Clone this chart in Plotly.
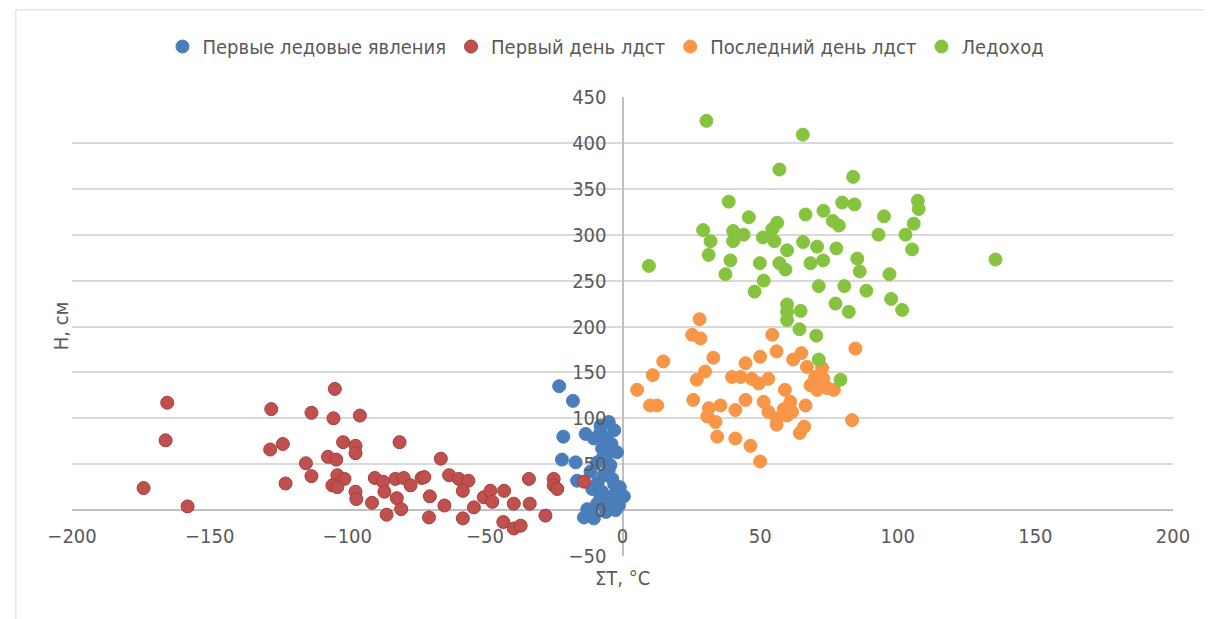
import plotly.graph_objects as go

# Первые ледовые явления
blue_x = [-23, -18, -21.5, -22, -17, -16.5, -14, -13.4, -5, -3, -8, -10.4, -7.4, -5.6,
          -9.2, -4.4, -11.6, -6.8, -3.7, -11, -7.4, -3.2, -1.3, -5, -9.2, -11.6, -2.5,
          -6, -8, -2, -6, -12.8, -10.4, 0.5, -1, -4, -7, -9, -5, -3, -6, -8]
blue_y = [135, 119, 80, 55, 52, 32, -8, 83, 96, 87, 85, 78, 67, 61,
          52, 49, 42, 38, 34, 23, 20, 16, 5, 7, 7, -2, 0,
          -2, 14, 63, 78, 1, -9, 15, 25, 72, 58, 30, 44, 28, 10, 92]

# Первый день лдст
red_x = [-165.4, -166, -174, -158, -127.6, -128, -123.4, -122.4, -113, -104.5, -105, -95.4,
         -101.5, -97, -97, -107, -104, -115, -113, -103.6, -101, -105.4, -103.6, -97,
         -96.7, -91, -90, -87, -86.5, -85.7, -81, -82.5, -79.5, -77, -82, -80.4, -73,
         -72, -70, -70.3, -66, -64.7, -63, -59.5, -56, -58, -58, -54, -50.4, -48, -47.3,
         -43, -43.3, -39.5, -39.5, -37, -34, -33.7, -28, -25, -25, -23.7, -14]
red_y = [117, 76, 24, 4, 110, 66, 72, 29, 106, 132, 100, 103,
         74, 70, 62, 58, 55, 51, 37, 38, 34, 27, 25, 20,
         12, 8, 35, 31, 20, -5, 74, 34, 35, 27, 13, 1, 35,
         36, 15, -8, 56, 5, 38, 34, 32, 21, -9, 3, 14, 21, 9,
         21, -13, 7, -20, -17, 34, 7, -6, 34, 27, 23, 31]

# Последний день лдст
orange_x = [28, 25.3, 28.3, 14.8, 11, 5.3, 10, 12.6, 33, 30, 27, 25.7, 31.4, 30.8, 33.8,
            35.6, 34.4, 41, 46.5, 50, 41, 44.7, 39.8, 44.7, 42.9, 47, 50, 49.5, 53, 54.4,
            56, 51.3, 53, 56, 56, 59, 61, 58.6, 59.8, 61.6, 62, 65, 67, 66.5, 66, 64.4,
            68.3, 70.7, 72.5, 74.4, 76.8, 84.6, 83.4, 70, 73]
orange_y = [208, 191, 187, 162, 147, 131, 114, 114, 166, 151, 142, 120, 111, 102, 96,
            114, 80, 78, 70, 53, 109, 120, 145, 160, 145, 143, 167, 138, 143, 191,
            173, 118, 107, 100, 93, 131, 118, 110, 103, 107, 164, 171, 156, 114, 91, 84,
            136, 131, 155, 133, 131, 176, 98, 145, 143]

# Ледоход
green_x = [30.5, 65.5, 57, 83.8, 38.6, 107.3, 107.6, 79.8, 84.3, 45.9, 66.5, 73, 76.4, 78.6,
           95, 105.8, 29.3, 40.2, 44, 51, 56.2, 54.4, 55.2, 93, 102.8, 32, 40.2, 65.6,
           70.7, 77.7, 105.2, 59.8, 31.3, 9.6, 39.2, 49.9, 57, 59.2, 68.3, 72.9, 85.3,
           86.2, 135.5, 37.4, 97, 51.3, 48, 71.3, 80.6, 88.6, 97.6, 101.6, 77.4, 82.2,
           59.8, 59.8, 59.8, 64.7, 64.3, 70.4, 71.3, 79.2]
green_y = [424, 409, 371, 363, 336, 337, 328, 335, 333, 319, 322, 326, 315, 310,
           320, 312, 305, 304, 300, 297, 313, 306, 293, 300, 300, 293, 293, 292,
           287, 285, 284, 283, 278, 266, 272, 269, 269, 262, 269, 272, 274,
           260, 273, 257, 257, 250, 238, 244, 244, 239, 230, 218, 225, 216,
           224, 216, 207, 217, 197, 190, 164, 142]

x_ticks = [-200, -150, -100, -50, 0, 50, 100, 150, 200]
y_ticks = [-50, 0, 50, 100, 150, 200, 250, 300, 350, 400, 450]

FONT = "Liberation Sans Narrow, DejaVu Sans Condensed, Arial Narrow, sans-serif"
GRIS = "#595959"

fig = go.Figure()

series = [
    ("Первые ледовые явления", blue_x, blue_y, "#4A7EBB", "#4A7EBB"),
    ("Первый день лдст", red_x, red_y, "#C0504D", "#A43F3C"),
    ("Последний день лдст", orange_x, orange_y, "#F79646", "#F79646"),
    ("Ледоход", green_x, green_y, "#86C440", "#86C440"),
]
for nombre, xs, ys, color, borde in series:
    fig.add_trace(go.Scatter(x=xs, y=ys, mode="markers", name=nombre,
                             marker=dict(size=13, color=color,
                                         line=dict(color=borde, width=1))))

# la página añade 8 px de margen al cuerpo: se descuentan aquí
fig.update_layout(
    width=1212, height=619,
    margin=dict(l=64, r=47, t=89, b=71),
    plot_bgcolor="white", paper_bgcolor="white",
    font=dict(family=FONT, size=20, color=GRIS),
    showlegend=True,
    legend=dict(orientation="h", x=0.485, y=1.11, xanchor="center", yanchor="middle",
                font=dict(size=20, color=GRIS), itemwidth=30, tracegroupgap=0),
    xaxis=dict(range=[-200, 200], tickvals=x_ticks, showgrid=False,
               zeroline=True, zerolinecolor="#BFBFBF", zerolinewidth=1.5,
               anchor="free", position=0.1, showline=False, ticks="",
               ticklabelstandoff=12,
               tickfont=dict(size=20, color=GRIS), fixedrange=True),
    yaxis=dict(range=[-50, 450], tickvals=y_ticks, showgrid=True,
               gridcolor="#D9D9D9", gridwidth=1.5,
               zeroline=True, zerolinecolor="#BFBFBF", zerolinewidth=1.5,
               anchor="free", position=0.5, showline=False, ticks="",
               ticklabelstandoff=16,
               tickfont=dict(size=20, color=GRIS), fixedrange=True),
    shapes=[dict(type="rect", xref="paper", yref="paper",
                 x0=-0.051, x1=1.04, y0=-0.14, y1=1.19,
                 line=dict(color="#D9D9D9", width=1))],
    annotations=[
        dict(text="ΣT, °C", xref="x", yref="paper", x=0, y=-0.048,
             yanchor="middle", showarrow=False, font=dict(size=20, color=GRIS)),
        dict(text="H, см", xref="paper", yref="paper", x=-0.023, y=0.5,
             textangle=-90, showarrow=False, font=dict(size=20, color=GRIS)),
    ],
)

fig.write_html("out.html")
